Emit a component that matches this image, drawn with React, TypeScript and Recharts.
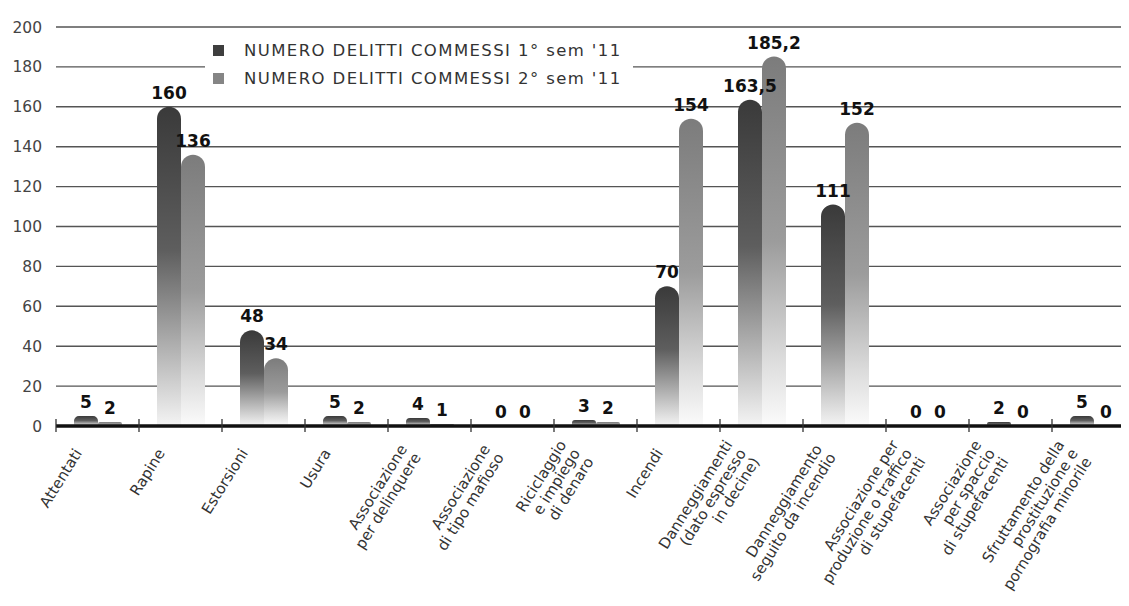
import { Bar, BarChart, CartesianGrid, LabelList, Legend, XAxis, YAxis } from "recharts";

const categories = [
  "Attentati",
  "Rapine",
  "Estorsioni",
  "Usura",
  "Associazione\nper delinquere",
  "Associazione\ndi tipo mafioso",
  "Riciclaggio\ne impiego\ndi denaro",
  "Incendi",
  "Danneggiamenti\n(dato espresso\nin decine)",
  "Danneggiamento\nseguito da incendio",
  "Associazione per\nproduzione o traffico\ndi stupefacenti",
  "Associazione\nper spaccio\ndi stupefacenti",
  "Sfruttamento della\nprostituzione e\npornografia minorile",
];

const firstSem = [5, 160, 48, 5, 4, 0, 3, 70, 163.5, 111, 0, 2, 5];
const secondSem = [2, 136, 34, 2, 1, 0, 2, 154, 185.2, 152, 0, 0, 0];

const seriesNames = ["NUMERO DELITTI COMMESSI 1° sem '11", "NUMERO DELITTI COMMESSI 2° sem '11"];
const yTicks = [0, 20, 40, 60, 80, 100, 120, 140, 160, 180, 200];

const data = categories.map((name, i) => ({ name, first: firstSem[i], second: secondSem[i] }));

const FONT = "'DejaVu Sans', 'Liberation Sans', sans-serif";
const CHART_W = 1135;
const Y_W = 56;

function CategoryTick({ x, y, payload }: any) {
  const lines = String(payload.value).split("\n");
  const lh = 16;
  const start = -((lines.length - 1) / 2) * lh;
  // left edge of the category band
  const half = payload.offset || (CHART_W - Y_W) / categories.length / 2;
  const edge = x - half;
  return (
    <g>
      <line x1={edge} x2={edge} y1={y - 7} y2={y + 6} stroke="#333" strokeWidth={1.3} />
      <g transform={`translate(${x - 15},${y + 27}) rotate(-58)`}>
        <text textAnchor="end" fontSize={15} fill="#333" fontFamily={FONT}>
          {lines.map((l, i) => (
            <tspan key={i} x={0} dy={i === 0 ? start : lh}>
              {l}
            </tspan>
          ))}
        </text>
      </g>
    </g>
  );
}

function LegendBox() {
  const colors = ["#3e3e3e", "#858585"];
  return (
    <div style={{ background: "#fff", padding: "2px 0 4px 8px", fontFamily: FONT }}>
      {seriesNames.map((n, i) => (
        <div key={n} style={{ display: "flex", alignItems: "center", height: 28 }}>
          <span style={{ width: 11, height: 11, background: colors[i], display: "inline-block", marginRight: 20 }} />
          <span style={{ fontSize: 16.5, letterSpacing: 1.4, color: "#333" }}>{n}</span>
        </div>
      ))}
    </div>
  );
}

const fmt = (v: any) => String(v).replace(".", ",");

const labelStyle = { fontSize: 17, fontWeight: 700, fill: "#111", fontFamily: FONT };

export default function App() {
  return (
    <div style={{ margin: -8, width: 1129, height: 606, overflow: "hidden", background: "#fff" }}>
      <BarChart
        width={CHART_W}
        height={606}
        data={data}
        margin={{ top: 27, right: 0, left: 0, bottom: 0 }}
        barGap={0}
        barSize={24}
      >
        <defs>
          <linearGradient id="gDark" x1="0" y1="0" x2="0" y2="1">
            <stop offset="0%" stopColor="#3a3a3a" />
            <stop offset="45%" stopColor="#5e5e5e" />
            <stop offset="80%" stopColor="#bdbdbd" />
            <stop offset="100%" stopColor="#f4f4f4" />
          </linearGradient>
          <linearGradient id="gLight" x1="0" y1="0" x2="0" y2="1">
            <stop offset="0%" stopColor="#7c7c7c" />
            <stop offset="50%" stopColor="#9c9c9c" />
            <stop offset="82%" stopColor="#dcdcdc" />
            <stop offset="100%" stopColor="#fbfbfb" />
          </linearGradient>
        </defs>
        <CartesianGrid vertical={false} stroke="#555" strokeWidth={1.4} />
        <YAxis
          width={Y_W}
          domain={[0, 200]}
          ticks={yTicks}
          interval={0}
          axisLine={false}
          tickLine={false}
          tickSize={0}
          tickMargin={14}
          tick={{ fontSize: 15.5, fill: "#444", fontFamily: FONT }}
        />
        <Legend
          layout="vertical"
          verticalAlign="middle"
          align="center"
          content={<LegendBox />}
          wrapperStyle={{ top: 34, left: 205, width: 428 }}
        />
        <Bar
          dataKey="first"
          name={seriesNames[0]}
          fill="url(#gDark)"
          radius={[12, 12, 0, 0]}
          minPointSize={0.5}
          isAnimationActive={false}
        >
          <LabelList dataKey="first" position="top" offset={8} formatter={fmt} style={labelStyle} />
        </Bar>
        <Bar
          dataKey="second"
          name={seriesNames[1]}
          fill="url(#gLight)"
          radius={[12, 12, 0, 0]}
          minPointSize={0.5}
          isAnimationActive={false}
        >
          <LabelList dataKey="second" position="top" offset={8} formatter={fmt} style={labelStyle} />
        </Bar>
        <XAxis
          dataKey="name"
          height={180}
          interval={0}
          tickLine={false}
          tickSize={0}
          tickMargin={0}
          axisLine={{ stroke: "#111", strokeWidth: 3.5 }}
          tick={<CategoryTick />}
        />
      </BarChart>
    </div>
  );
}
